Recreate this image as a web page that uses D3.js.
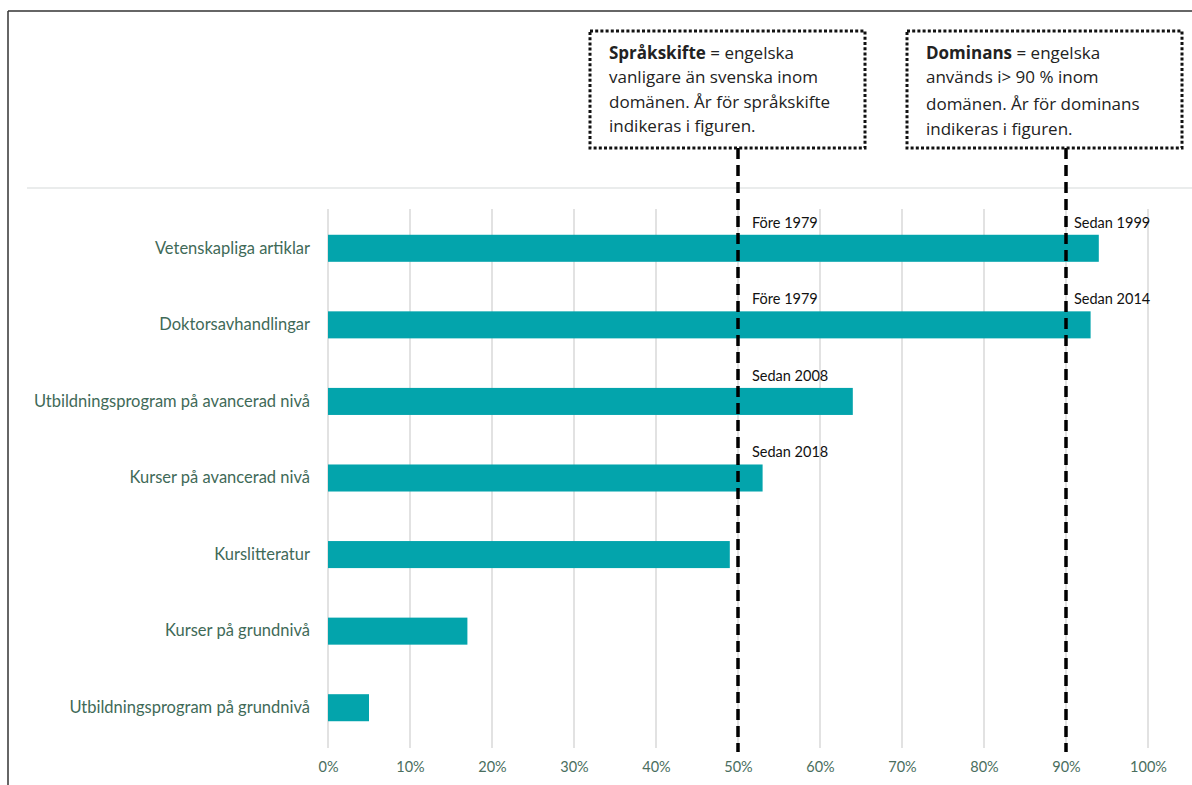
<!DOCTYPE html>
<html><head><meta charset="utf-8">
<script src="https://cdn.jsdelivr.net/npm/d3@7"></script>
<style>body{margin:0;background:#fff}svg{display:block}</style>
</head><body>
<svg id="c" width="1192" height="785"></svg>
<script>
const categories = ["Vetenskapliga artiklar","Doktorsavhandlingar","Utbildningsprogram på avancerad nivå","Kurser på avancerad nivå","Kurslitteratur","Kurser på grundnivå","Utbildningsprogram på grundnivå"];
const values = [94, 93, 64, 53, 49, 17, 5];
const shiftLabels = ["Före 1979","Före 1979","Sedan 2008","Sedan 2018","","",""];
const domLabels = ["Sedan 1999","Sedan 2014","","","","",""];
const ticks = [0,10,20,30,40,50,60,70,80,90,100];
const thresholds = [50, 90];
const boxLines = [
  [{b:"Språkskifte", t:" = engelska"},{t:"vanligare än svenska inom"},{t:"domänen. År för språkskifte"},{t:"indikeras i figuren."}],
  [{b:"Dominans", t:" = engelska"},{t:"används i> 90 % inom"},{t:"domänen. År för dominans"},{t:"indikeras i figuren."}]
];

const svg = d3.select("#c");
const x = d3.scaleLinear().domain([0,100]).range([328,1148]);
const y = d3.scaleBand().domain(categories).range([210,746]).paddingInner(0.647).paddingOuter(0.3235);

// frame
svg.append("line").attr("x1",8).attr("x2",1192).attr("y1",11).attr("y2",11).attr("stroke","#333").attr("stroke-width",1.5);
svg.append("line").attr("x1",8).attr("x2",8).attr("y1",11).attr("y2",785).attr("stroke","#333").attr("stroke-width",1.5);
svg.append("line").attr("x1",27).attr("x2",1192).attr("y1",188).attr("y2",188).attr("stroke","#e3e6e6").attr("stroke-width",1.5);

// grid
svg.append("g").selectAll("line").data(ticks).join("line")
  .attr("x1",d=>x(d)).attr("x2",d=>x(d)).attr("y1",209).attr("y2",748)
  .attr("stroke","#d9d9d9").attr("stroke-width",1.5);

// x axis labels
const xAxis = d3.axisBottom(x).tickValues(ticks).tickFormat(d=>d+"%").tickSize(0).tickPadding(0);
const gx = svg.append("g").attr("transform","translate(0,762)").call(xAxis);
gx.select(".domain").remove();
gx.selectAll("text").attr("font-family","Lato, sans-serif").attr("font-size",14.5).attr("fill","#4a6e5e");

// y axis labels
const yAxis = d3.axisLeft(y).tickSize(0).tickPadding(0);
const gy = svg.append("g").attr("transform","translate(310,0)").call(yAxis);
gy.select(".domain").remove();
gy.selectAll("text").attr("font-family","Lato, sans-serif").attr("font-size",16.5).attr("fill","#3f6a58");

// bars
svg.append("g").selectAll("rect").data(categories).join("rect")
  .attr("x",x(0)).attr("y",d=>y(d)).attr("height",y.bandwidth())
  .attr("width",(d,i)=>x(values[i])-x(0)).attr("fill","#03a4ac");

// threshold dashed lines
svg.append("g").selectAll("line").data(thresholds).join("line")
  .attr("x1",d=>x(d)).attr("x2",d=>x(d)).attr("y1",148).attr("y2",752)
  .attr("stroke","#000").attr("stroke-width",3.5).attr("stroke-dasharray","11,6");

// annotations
const ann = svg.append("g").attr("font-family","Lato, sans-serif").attr("font-size",14.5).attr("fill","#111");
categories.forEach((c,i)=>{
  if (shiftLabels[i]) ann.append("text").attr("x",x(thresholds[0])+14).attr("y",y(c)-7).text(shiftLabels[i]);
  if (domLabels[i]) ann.append("text").attr("x",x(thresholds[1])+8).attr("y",y(c)-7).text(domLabels[i]);
});

// boxes
const boxX = [590, 907];
const lineY = [[59,83,108,132],[59,83,110,135]];
boxLines.forEach((lines,bi)=>{
  svg.append("rect").attr("x",boxX[bi]).attr("y",31).attr("width",275).attr("height",117)
    .attr("fill","#fff").attr("stroke","#111").attr("stroke-width",3).attr("stroke-dasharray","3,2.2");
  const g = svg.append("g").attr("font-family","'Open Sans', sans-serif").attr("font-size",17).attr("fill","#222");
  lines.forEach((ln,li)=>{
    const t = g.append("text").attr("x",boxX[bi]+19).attr("y",lineY[bi][li]);
    if (ln.b) t.append("tspan").attr("font-weight","bold").text(ln.b);
    t.append("tspan").text(ln.t);
  });
});
</script>
</body></html>
